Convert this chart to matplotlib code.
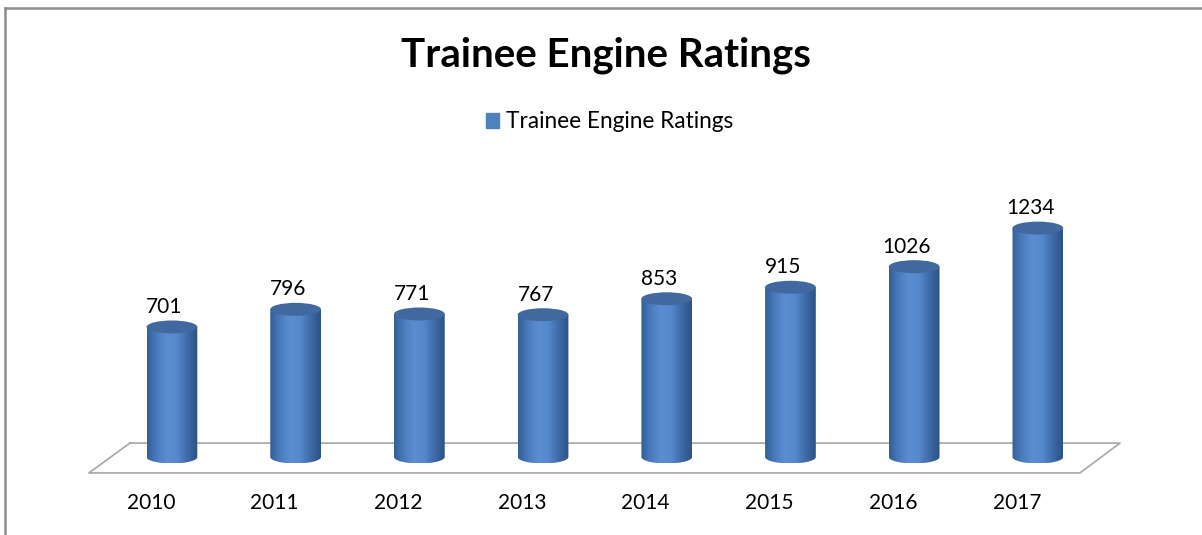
import numpy as np
import matplotlib.pyplot as plt
from matplotlib.patches import Ellipse, Patch, PathPatch
from matplotlib.path import Path
from matplotlib.colors import LinearSegmentedColormap

years = ["2010", "2011", "2012", "2013", "2014", "2015", "2016", "2017"]
ratings = [701, 796, 771, 767, 853, 915, 1026, 1234]
series_name = "Trainee Engine Ratings"

plt.rcParams['font.family'] = ['Lato', 'DejaVu Sans']

fig = plt.figure(figsize=(12.02, 5.35), dpi=100)
ax = fig.add_axes([0, 0, 1, 1])
ax.axis('off')

# shading across the cylinder body (dark edges, light band right of centre)
shade = LinearSegmentedColormap.from_list(
    "cyl", ["#335f99", "#4a7cbd", "#5b8dd1", "#5487cb", "#3e6aa6", "#2c5185"])
grad = np.linspace(0, 1, 256)[None, :]

# floor outline
floor_x = [-0.34, 7.664, 7.34, -0.671, -0.34]
floor_y = [75, 75, -86, -86, 75]
ax.plot(floor_x, floor_y, color="#a6a6a6", lw=1.2, zorder=1)

w = 0.41
ell_h = 70
for i, v in enumerate(ratings):
    # outline of the body: straight sides, rounded bottom
    t = np.linspace(np.pi, 2 * np.pi, 40)
    bx = i + w / 2 * np.cos(t)
    by = ell_h / 2 * np.sin(t)
    verts = list(zip(bx, by)) + [(i + w / 2, v), (i - w / 2, v), (bx[0], by[0])]
    body = PathPatch(Path(verts), facecolor='none', edgecolor='none')
    ax.add_patch(body)
    im = ax.imshow(grad, cmap=shade, aspect='auto', interpolation='bilinear',
                   extent=(i - w / 2, i + w / 2, -ell_h / 2, v), zorder=2)
    im.set_clip_path(body)
    ax.add_patch(Ellipse((i, v), w, ell_h, color="#41699f", lw=0, zorder=3))
    ax.text(i - 0.06, v + 108, str(v), ha='center', va='center',
            fontsize=15, color='black')
    ax.text(i - 0.17, -248, years[i], ha='center', va='center', fontsize=15,
            color='black')

ax.set_xlim(-1.39, 8.327)
ax.set_ylim(-420.5, 2463.6)

fig.text(0.504, 0.897, series_name, ha='center', va='center',
         fontsize=29, fontweight='bold')
fig.legend(handles=[Patch(color="#4f81bd", label=series_name)],
           loc='center', bbox_to_anchor=(0.507, 0.772), frameon=False,
           fontsize=16.3, handlelength=0.6, handleheight=0.6,
           handletextpad=0.3)

# chart frame (cropped at right and bottom)
fig.add_artist(plt.Line2D([5 / 1202, 5 / 1202], [0, 1 - 8 / 535],
                          color="#8c8c8c", lw=1.8))
fig.add_artist(plt.Line2D([5 / 1202, 1], [1 - 8 / 535, 1 - 8 / 535],
                          color="#8c8c8c", lw=1.8))

fig.savefig('out.png', dpi=100)
